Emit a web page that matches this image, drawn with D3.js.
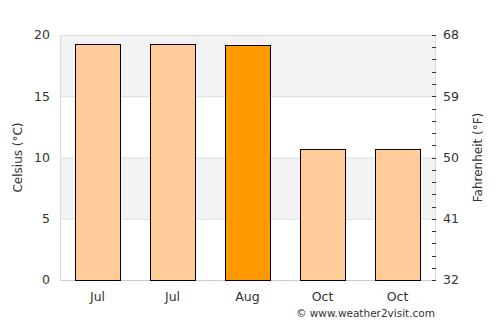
<!DOCTYPE html>
<html>
<head>
<meta charset="utf-8">
<script src="https://cdn.jsdelivr.net/npm/d3@7"></script>
<style>
  body { margin: 0; background: #fff; }
  text { font-family: "DejaVu Sans", sans-serif; fill: #333; }
</style>
</head>
<body>
<svg id="chart" width="500" height="325"></svg>
<script>
const months = ["Jul", "Jul", "Aug", "Oct", "Oct"];
const temps = [19.25, 19.25, 19.15, 10.7, 10.7];
const highlight = [false, false, true, false, false];
const celsiusTicks = [0, 5, 10, 15, 20];
const fahrenheitTicks = [32, 41, 50, 59, 68];

const margin = { top: 35, right: 65, bottom: 45, left: 60 };
const width = 500, height = 325;
const innerWidth = width - margin.left - margin.right;
const innerHeight = height - margin.top - margin.bottom;

const svg = d3.select("#chart");
const g = svg.append("g").attr("transform", `translate(${margin.left},${margin.top})`);

const x = d3.scaleBand().domain(d3.range(months.length)).range([0, innerWidth])
  .paddingInner(0.4).paddingOuter(0.2);
const y = d3.scaleLinear().domain([0, 20]).range([innerHeight, 0]);
const yF = d3.scaleLinear().domain([32, 68]).range([innerHeight, 0]);

// shaded bands
[[15, 20], [5, 10]].forEach(([a, b]) => {
  g.append("rect")
    .attr("x", 0).attr("width", innerWidth)
    .attr("y", y(b)).attr("height", y(a) - y(b))
    .attr("fill", "#f2f2f2");
});

// grid lines
g.selectAll("line.grid").data(celsiusTicks.slice(1))
  .enter().append("line")
  .attr("x1", 0).attr("x2", innerWidth)
  .attr("y1", d => y(d) + 0.5).attr("y2", d => y(d) + 0.5)
  .attr("stroke", "#ddd");

// frame
g.append("line").attr("x1", 0.5).attr("x2", 0.5).attr("y1", 0).attr("y2", innerHeight).attr("stroke", "#ddd");
g.append("line").attr("x1", innerWidth + 0.5).attr("x2", innerWidth + 0.5).attr("y1", 0).attr("y2", innerHeight).attr("stroke", "#ddd");
g.append("line").attr("x1", 0).attr("x2", innerWidth).attr("y1", innerHeight + 0.5).attr("y2", innerHeight + 0.5).attr("stroke", "#ccc");

// bars
g.selectAll("rect.bar").data(temps)
  .enter().append("rect")
  .attr("class", "bar")
  .attr("x", (d, i) => Math.round(x(i)) + 0.5)
  .attr("width", Math.round(x.bandwidth()))
  .attr("y", d => Math.round(y(d)) + 0.5)
  .attr("height", d => innerHeight - Math.round(y(d)))
  .attr("fill", (d, i) => highlight[i] ? "#ff9900" : "#ffcc99")
  .attr("stroke", "#000")
  .attr("stroke-width", 1);

// left axis labels
g.selectAll("text.yl").data(celsiusTicks)
  .enter().append("text")
  .attr("x", -10).attr("y", d => y(d))
  .attr("dy", "0.35em")
  .attr("text-anchor", "end")
  .attr("font-size", 12.5)
  .text(d => d);

// right axis ticks (every 1 degC)
g.selectAll("line.rt").data(d3.range(0, 21))
  .enter().append("line")
  .attr("x1", innerWidth - 3).attr("x2", innerWidth + 1)
  .attr("y1", d => Math.round(y(d)) + 0.5).attr("y2", d => Math.round(y(d)) + 0.5)
  .attr("stroke", "#333");

g.selectAll("text.yr").data(fahrenheitTicks)
  .enter().append("text")
  .attr("x", innerWidth + 8).attr("y", d => yF(d))
  .attr("dy", "0.35em")
  .attr("font-size", 12.5)
  .attr("fill", "#111")
  .text(d => d);

// x labels
g.selectAll("text.xl").data(months)
  .enter().append("text")
  .attr("x", (d, i) => x(i) + x.bandwidth() / 2)
  .attr("y", innerHeight + 21)
  .attr("text-anchor", "middle")
  .attr("font-size", 12.5)
  .text(d => d);

// axis titles
svg.append("text")
  .attr("transform", `translate(22,${margin.top + innerHeight / 2}) rotate(-90)`)
  .attr("text-anchor", "middle")
  .attr("font-size", 12)
  .text("Celsius (°C)");

svg.append("text")
  .attr("transform", `translate(482,${margin.top + innerHeight / 2}) rotate(-90)`)
  .attr("text-anchor", "middle")
  .attr("font-size", 12)
  .text("Fahrenheit (°F)");

svg.append("text")
  .attr("x", margin.left + innerWidth).attr("y", 317)
  .attr("text-anchor", "end")
  .attr("font-size", 10.5)
  .text("© www.weather2visit.com");
</script>
</body>
</html>
